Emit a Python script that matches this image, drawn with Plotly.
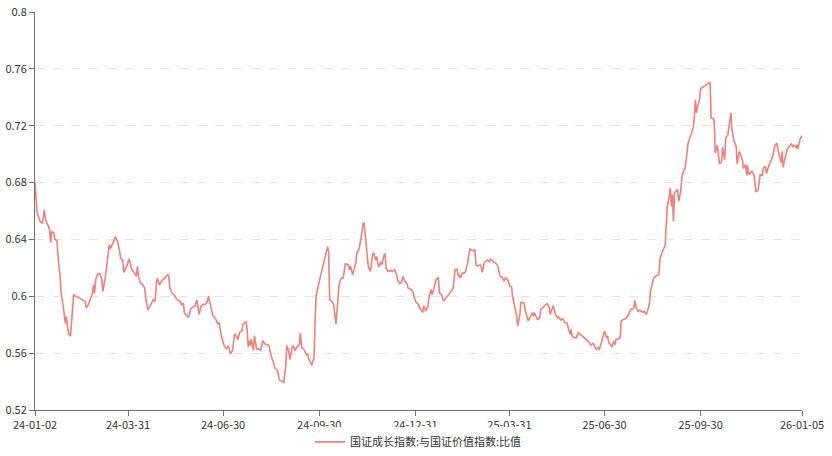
import plotly.graph_objects as go

# ---------------- data ----------------
dates_2024 = [
    "01-02","01-04","01-07","01-09","01-11","01-12","01-15","01-16","01-17","01-18","01-20","01-21","01-23","01-24","01-26","01-27","01-29","01-31",
    "02-01","02-02","02-03","02-05","02-06","02-07","02-08","02-19","02-20","02-22","02-24","02-26","02-27","02-28","02-29",
    "03-02","03-04","03-06","03-07","03-09","03-11","03-13","03-14","03-16","03-18","03-19","03-21","03-23","03-24","03-26","03-27","03-29","03-30",
    "04-01","04-02","04-03","04-06","04-08","04-09","04-10","04-12","04-14","04-16","04-17","04-19","04-21","04-24","04-26","04-27","04-28","04-30",
    "05-02","05-05","05-08","05-09","05-10","05-12","05-14","05-16","05-17","05-20","05-21","05-23","05-24","05-27","05-28","05-30",
    "06-01","06-03","06-05","06-07","06-09","06-11","06-13","06-15","06-16","06-18","06-20","06-23","06-25","06-26","06-27","06-29",
    "07-01","07-03","07-05","07-06","07-07","07-09","07-11","07-13","07-14","07-16","07-18","07-19","07-22","07-23","07-24","07-25","07-26","07-27","07-29","07-30",
    "08-01","08-03","08-05","08-07","08-09","08-12","08-13","08-15","08-17","08-19","08-21","08-23","08-25","08-27","08-29","08-30",
    "09-01","09-02","09-04","09-05","09-07","09-08","09-11","09-12","09-13","09-16","09-18","09-19","09-20","09-23","09-24","09-25","09-26","09-27","09-30",
    "10-08","10-09","10-10","10-13","10-14","10-16","10-18","10-19","10-21","10-23","10-25","10-26","10-28","10-29","10-30",
    "11-01","11-02","11-04","11-05","11-07","11-09","11-11","11-12","11-13","11-15","11-16","11-18","11-20","11-21","11-23","11-24","11-25","11-26","11-28","11-29",
    "12-01","12-02","12-03","12-05","12-07","12-09","12-11","12-13","12-14","12-16","12-18","12-19","12-21","12-23","12-24","12-26","12-27","12-29","12-30",
]
ratio_2024 = [
    0.680,0.6585,0.6526,0.6515,0.6608,0.6538,0.649,0.6467,0.6379,0.6456,0.6445,0.640,0.6393,0.628,0.614,0.6023,0.593,0.581,
    0.5857,0.5789,0.574,0.5719,0.5836,0.5953,0.6011,0.5964,0.5918,0.594,0.5987,0.6022,0.608,0.602,0.6117,
    0.6159,0.6159,0.6117,0.6034,0.6117,0.6234,0.6362,0.6334,0.6362,0.6397,0.642,0.6386,0.6316,0.6269,0.6252,0.6168,0.6203,0.6215,
    0.6263,0.624,0.6199,0.6164,0.614,0.621,0.614,0.6093,0.6082,0.6058,0.5987,0.5905,0.5929,0.5976,0.5964,0.6081,0.6128,0.6081,
    0.6105,0.6128,0.6152,0.6145,0.6058,0.6023,0.6011,0.5988,0.5976,0.5964,0.594,0.5952,0.5882,0.5859,0.585,0.5913,
    0.592,0.5932,0.5973,0.5874,0.5932,0.5943,0.5943,0.5966,0.6001,0.5943,0.5867,0.5839,0.5804,0.5816,0.5769,0.570,
    0.5653,0.563,0.5653,0.5626,0.5595,0.5618,0.5734,0.5718,0.5695,0.5746,0.5758,0.5804,0.582,0.5769,0.5642,0.5688,0.5653,0.570,0.5619,0.5723,
    0.563,0.563,0.5619,0.5688,0.5665,0.5658,0.5649,0.5584,0.5537,0.5491,0.5479,0.541,0.5405,0.5394,0.5514,0.5653,
    0.5607,0.5556,0.5642,0.5653,0.5618,0.5635,0.5665,0.5741,0.5642,0.5618,0.5584,0.5595,0.556,0.5514,0.5549,0.556,0.5816,0.6001,0.6105,
    0.6349,0.6314,0.5978,0.5955,0.5932,0.5804,0.6036,0.6082,0.6129,0.6129,0.6228,0.6226,0.6221,0.6187,0.621,
    0.6152,0.6187,0.6233,0.6303,0.633,0.6407,0.6511,0.6515,0.6419,0.628,0.621,0.6175,0.6291,0.6307,0.6256,0.628,0.6233,0.6205,0.6245,0.6221,
    0.6291,0.6298,0.6198,0.6175,0.6182,0.6175,0.6187,0.6152,0.6117,0.6089,0.610,0.614,0.6106,0.6089,0.6059,0.6048,0.6048,0.6024,0.599,
]

dates_2025 = [
    "01-01","01-03","01-04","01-06","01-07","01-08","01-10","01-12","01-13","01-15","01-16","01-17","01-19","01-20","01-22","01-23","01-25","01-27",
    "02-05","02-07","02-09","02-10","02-11","02-12","02-14","02-16","02-17","02-19","02-21","02-23","02-24","02-26","02-27",
    "03-01","03-03","03-04","03-05","03-07","03-08","03-10","03-12","03-13","03-15","03-16","03-18","03-20","03-22","03-24","03-26","03-27","03-28","03-30","03-31",
    "04-02","04-03","04-05","04-07","04-08","04-10","04-11","04-14","04-15","04-17","04-18","04-20","04-22","04-23","04-24","04-26","04-27","04-29","04-30",
    "05-06","05-08","05-09","05-11","05-12","05-14","05-16","05-17","05-19","05-21","05-23","05-25","05-27","05-28","05-29","05-30",
    "06-01","06-03","06-05","06-07","06-09","06-10","06-12","06-14","06-16","06-17","06-19","06-21","06-22","06-24","06-25","06-27","06-29","06-30",
    "07-02","07-03","07-04","07-06","07-07","07-09","07-10","07-11","07-13","07-15","07-16","07-18","07-20","07-22","07-23","07-25","07-27","07-28","07-29","07-30",
    "08-01","08-03","08-04","08-06","08-07","08-09","08-11","08-12","08-13","08-15","08-16","08-19","08-21","08-22","08-24","08-27","08-28","08-29","08-31",
    "09-01","09-02","09-03","09-04","09-05","09-07","09-08","09-09","09-11","09-12","09-13","09-15","09-16","09-18","09-19","09-21","09-23","09-24","09-25","09-26","09-27","09-29","09-30",
    "10-09","10-10","10-12","10-13","10-14","10-16","10-17","10-18","10-20","10-21","10-23","10-24","10-26","10-27","10-29","10-30","10-31",
    "11-01","11-03","11-04","11-06","11-07","11-09","11-10","11-12","11-13","11-14","11-15","11-17","11-18","11-20","11-21","11-22","11-24","11-25","11-26","11-28","11-29",
    "12-01","12-02","12-04","12-06","12-08","12-09","12-10","12-12","12-13","12-15","12-16","12-17","12-18","12-19","12-21","12-22","12-24","12-26","12-27","12-28","12-30","12-31",
]
ratio_2025 = [
    0.5955,0.5943,0.592,0.5897,0.5885,0.5932,0.5897,0.5932,0.599,0.6048,0.6013,0.6036,0.6082,0.6117,0.6133,0.6024,0.6013,0.5966,
    0.6052,0.6187,0.6191,0.6141,0.6152,0.6129,0.6163,0.6163,0.6175,0.6233,0.6333,0.6326,0.6321,0.6326,0.6221,
    0.6214,0.6221,0.621,0.6168,0.6238,0.6245,0.6256,0.6245,0.6261,0.6252,0.6238,0.6233,0.621,0.614,0.6135,0.6105,0.6128,0.6128,0.6105,0.6074,
    0.607,0.600,0.5925,0.586,0.579,0.5872,0.5958,0.5953,0.5907,0.5849,0.5826,0.5856,0.5884,0.586,0.5884,0.5849,0.5837,0.5849,0.5907,
    0.5949,0.5925,0.5872,0.5907,0.5935,0.5872,0.5849,0.5856,0.5833,0.5842,0.5814,0.5814,0.5767,0.5732,0.5767,0.572,
    0.5709,0.5709,0.5744,0.5732,0.5721,0.5709,0.5698,0.5686,0.567,0.5656,0.567,0.5639,0.5628,0.5639,0.5623,0.5674,0.5721,0.5756,
    0.5709,0.5721,0.5674,0.5656,0.5646,0.5686,0.5656,0.5698,0.5698,0.5709,0.5826,0.5837,0.5842,0.586,0.5872,0.5907,0.5912,0.5914,0.5972,0.5926,
    0.5895,0.5902,0.5895,0.5888,0.5895,0.5872,0.5919,0.5949,0.6035,0.6087,0.6128,0.6146,0.6153,0.6258,0.631,0.6356,0.648,0.6633,0.6703,
    0.6762,0.6633,0.6715,0.6527,0.6727,0.6743,0.675,0.6668,0.6738,0.6832,0.6867,0.6902,0.6949,0.7078,0.7102,0.7148,0.7188,0.7266,0.7383,0.7289,0.7336,0.7383,0.746,
    0.7507,0.7254,0.7249,0.723,0.7008,0.7062,0.6996,0.6931,0.6945,0.7048,0.6961,0.7113,0.7137,0.7184,0.7289,0.7172,0.7125,
    0.709,0.7055,0.6931,0.702,0.7001,0.6961,0.6898,0.6926,0.6851,0.6921,0.6856,0.6874,0.6879,0.6856,0.6774,0.6734,0.675,0.6797,0.6856,0.6851,0.6902,
    0.6914,0.6863,0.6914,0.6945,0.6984,0.7024,0.7062,0.7078,0.7031,0.6973,0.6938,0.702,0.6907,0.6945,0.7015,0.7038,0.7055,0.7071,0.7055,0.7062,0.7048,0.7066,
]

dates_2026 = ["01-01","01-02","01-03","01-05"]
ratio_2026 = [0.7038,0.7071,0.7102,0.713]

x_tick_dates = ["2024-01-02","2024-03-31","2024-06-30","2024-09-30","2024-12-31",
                "2025-03-31","2025-06-30","2025-09-30","2026-01-05"]
x_tick_labels = ["24-01-02","24-03-31","24-06-30","24-09-30","24-12-31",
                 "25-03-31","25-06-30","25-09-30","26-01-05"]
y_tick_vals = [0.52,0.56,0.6,0.64,0.68,0.72,0.76,0.8]
y_tick_labels = ["0.52","0.56","0.6","0.64","0.68","0.72","0.76","0.8"]
series_name = "国证成长指数:与国证价值指数:比值"

assert len(dates_2024) == len(ratio_2024)
assert len(dates_2025) == len(ratio_2025)
assert len(dates_2026) == len(ratio_2026)

dates = (["2024-" + d for d in dates_2024] + ["2025-" + d for d in dates_2025]
         + ["2026-" + d for d in dates_2026])
ratio = ratio_2024 + ratio_2025 + ratio_2026

# ---------------- figure ----------------
FONT = "Noto Sans CJK SC, Noto Sans, sans-serif"
AXIS = "#6e7079"

fig = go.Figure(go.Scatter(
    x=dates, y=ratio, mode="lines", name=series_name,
    line=dict(color="#e8827b", width=1.6),
))

fig.update_layout(
    width=832, height=456,
    margin=dict(l=35, r=30, t=12, b=46, autoexpand=False),
    paper_bgcolor="white", plot_bgcolor="white",
    font=dict(family=FONT, size=11, color="#333333"),
    showlegend=True,
    legend=dict(orientation="h", x=0.5, xanchor="center", y=-0.08, yanchor="middle",
                font=dict(family=FONT, size=11, color="#333333"), itemwidth=30),
    hovermode=False,
)
fig.update_xaxes(
    type="date", range=["2024-01-02", "2026-01-05"],
    tickvals=x_tick_dates, ticktext=x_tick_labels,
    showline=True, linecolor=AXIS, linewidth=1,
    ticks="outside", ticklen=5, tickcolor=AXIS,
    showgrid=False, zeroline=False, automargin=False,
    tickfont=dict(family=FONT, size=11, color="#333333"),
)
fig.update_yaxes(
    range=[0.52, 0.8], tickvals=y_tick_vals, ticktext=y_tick_labels,
    showline=True, linecolor=AXIS, linewidth=1,
    ticks="outside", ticklen=5, tickcolor=AXIS,
    showgrid=True, gridcolor="#e3e3e3", griddash="dash", gridwidth=1,
    zeroline=False, automargin=False,
    tickfont=dict(family=FONT, size=11, color="#333333"),
)

# remove the browser's default 8px body margin so the figure sits at the page origin
fig.write_html(
    "out.html",
    config={"displayModeBar": False},
    post_script="document.body.style.margin='0';document.body.style.overflow='hidden';",
)
